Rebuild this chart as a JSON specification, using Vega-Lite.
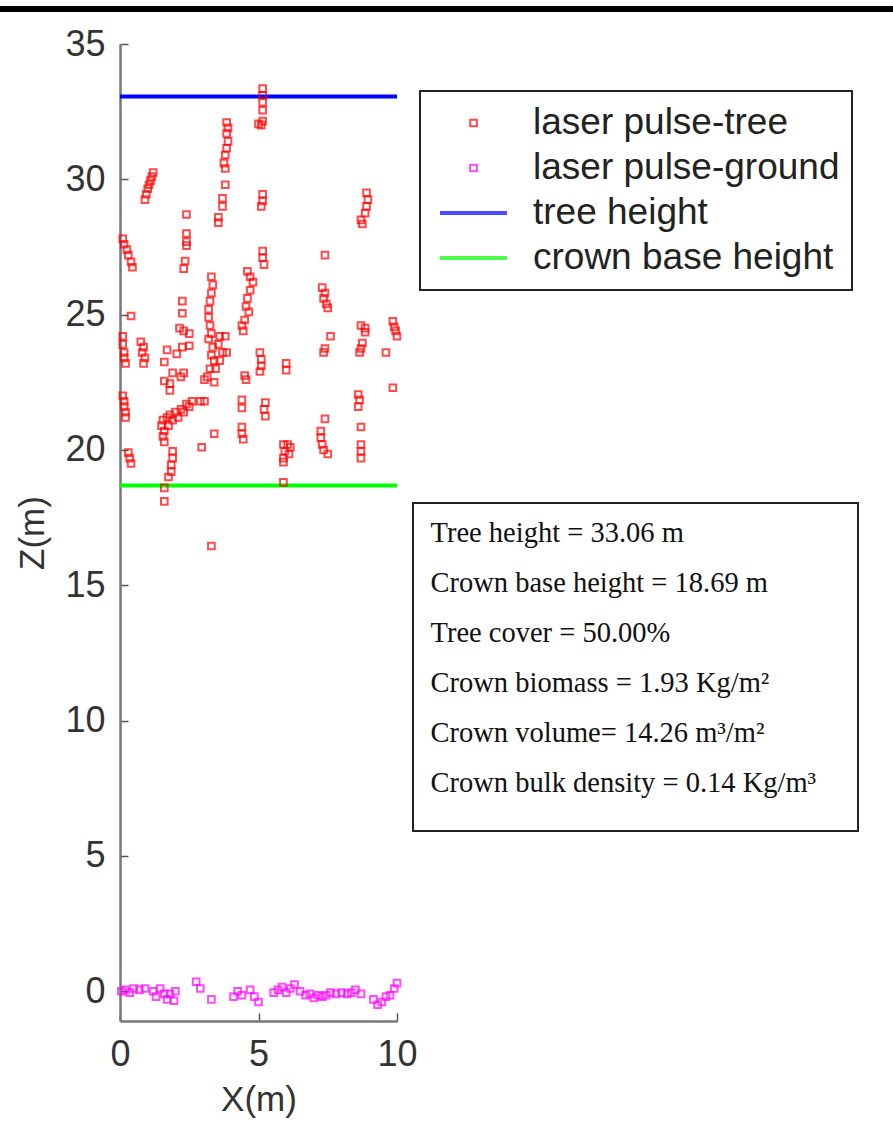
{
  "$schema": "https://vega.github.io/schema/vega-lite/v6.json",
  "width": 277,
  "height": 977,
  "autosize": {"type": "none"},
  "padding": {"left": 120, "top": 44, "right": 496, "bottom": 100},
  "background": "white",
  "config": {
    "view": {"stroke": null},
    "axis": {
      "domainColor": "#777777", "domainWidth": 2.5,
      "tickColor": "#555555", "tickWidth": 1.5, "tickSize": -8,
      "labelFont": "Liberation Sans", "labelFontSize": 36, "labelColor": "#333333", "labelFlush": false,
      "titleFont": "Liberation Sans", "titleFontSize": 35, "titleFontWeight": "normal", "titleColor": "#333333",
      "grid": false
    },
    "legend": {"strokeWidth": 2}
  },
  "layer": [
    {
      "data": {"values": [
        {"s": "tree height", "z": 33.06},
        {"s": "crown base height", "z": 18.69}
      ]},
      "mark": {"type": "rule"},
      "encoding": {
        "y": {"field": "z", "type": "quantitative"},
        "color": {"field": "s", "type": "ordinal",
              "scale": {"type": "ordinal", "domain": ["laser pulse-tree", "laser pulse-ground", "tree height", "crown base height"],
                        "range": ["#ff0000", "#ff00ff", "#0000ff", "#00ff00"]}},
        "strokeWidth": {"field": "s", "type": "ordinal",
              "scale": {"type": "ordinal", "domain": ["laser pulse-tree", "laser pulse-ground", "tree height", "crown base height"],
                        "range": [2, 2, 4, 4]}}
      }
    },
    {
      "data": {"values": [
        {"x":0.1,"z":27.8,"s":"laser pulse-tree"},{"x":0.15,"z":27.6,"s":"laser pulse-tree"},{"x":0.25,"z":27.4,"s":"laser pulse-tree"},{"x":0.3,"z":27.2,"s":"laser pulse-tree"},{"x":0.4,"z":26.95,"s":"laser pulse-tree"},{"x":0.45,"z":26.75,"s":"laser pulse-tree"},
        {"x":0.4,"z":24.95,"s":"laser pulse-tree"},
        {"x":0.1,"z":24.2,"s":"laser pulse-tree"},{"x":0.1,"z":23.9,"s":"laser pulse-tree"},{"x":0.15,"z":23.6,"s":"laser pulse-tree"},{"x":0.15,"z":23.4,"s":"laser pulse-tree"},{"x":0.2,"z":23.2,"s":"laser pulse-tree"},
        {"x":0.1,"z":22.0,"s":"laser pulse-tree"},{"x":0.15,"z":21.8,"s":"laser pulse-tree"},{"x":0.15,"z":21.6,"s":"laser pulse-tree"},{"x":0.2,"z":21.4,"s":"laser pulse-tree"},{"x":0.2,"z":21.2,"s":"laser pulse-tree"},
        {"x":0.3,"z":19.9,"s":"laser pulse-tree"},{"x":0.35,"z":19.7,"s":"laser pulse-tree"},{"x":0.4,"z":19.5,"s":"laser pulse-tree"},
        {"x":0.9,"z":29.25,"s":"laser pulse-tree"},{"x":0.95,"z":29.45,"s":"laser pulse-tree"},{"x":1.0,"z":29.65,"s":"laser pulse-tree"},{"x":1.05,"z":29.8,"s":"laser pulse-tree"},{"x":1.1,"z":29.95,"s":"laser pulse-tree"},{"x":1.15,"z":30.1,"s":"laser pulse-tree"},{"x":1.2,"z":30.25,"s":"laser pulse-tree"},
        {"x":0.75,"z":24.0,"s":"laser pulse-tree"},{"x":0.85,"z":23.8,"s":"laser pulse-tree"},{"x":0.8,"z":23.6,"s":"laser pulse-tree"},{"x":0.9,"z":23.4,"s":"laser pulse-tree"},{"x":0.85,"z":23.2,"s":"laser pulse-tree"},
        {"x":1.7,"z":23.7,"s":"laser pulse-tree"},{"x":1.6,"z":23.25,"s":"laser pulse-tree"},{"x":2.05,"z":23.55,"s":"laser pulse-tree"},{"x":2.5,"z":23.85,"s":"laser pulse-tree"},{"x":2.25,"z":23.8,"s":"laser pulse-tree"},{"x":1.9,"z":22.85,"s":"laser pulse-tree"},{"x":2.3,"z":22.85,"s":"laser pulse-tree"},{"x":1.6,"z":22.55,"s":"laser pulse-tree"},{"x":1.8,"z":22.45,"s":"laser pulse-tree"},{"x":1.8,"z":22.2,"s":"laser pulse-tree"},{"x":2.2,"z":22.7,"s":"laser pulse-tree"},
        {"x":1.5,"z":20.9,"s":"laser pulse-tree"},{"x":1.55,"z":21.1,"s":"laser pulse-tree"},{"x":1.6,"z":20.7,"s":"laser pulse-tree"},{"x":1.7,"z":21.2,"s":"laser pulse-tree"},{"x":1.75,"z":20.9,"s":"laser pulse-tree"},{"x":1.8,"z":21.3,"s":"laser pulse-tree"},{"x":1.9,"z":21.1,"s":"laser pulse-tree"},{"x":2.0,"z":21.4,"s":"laser pulse-tree"},{"x":2.1,"z":21.2,"s":"laser pulse-tree"},{"x":2.2,"z":21.5,"s":"laser pulse-tree"},{"x":2.3,"z":21.4,"s":"laser pulse-tree"},{"x":2.4,"z":21.7,"s":"laser pulse-tree"},{"x":2.5,"z":21.6,"s":"laser pulse-tree"},{"x":2.6,"z":21.8,"s":"laser pulse-tree"},{"x":1.55,"z":20.5,"s":"laser pulse-tree"},{"x":1.6,"z":20.3,"s":"laser pulse-tree"},{"x":2.9,"z":21.8,"s":"laser pulse-tree"},{"x":3.05,"z":21.8,"s":"laser pulse-tree"},
        {"x":1.9,"z":19.95,"s":"laser pulse-tree"},{"x":1.9,"z":19.7,"s":"laser pulse-tree"},{"x":1.85,"z":19.45,"s":"laser pulse-tree"},{"x":1.85,"z":19.2,"s":"laser pulse-tree"},{"x":1.75,"z":19.0,"s":"laser pulse-tree"},{"x":1.6,"z":18.6,"s":"laser pulse-tree"},{"x":1.6,"z":18.1,"s":"laser pulse-tree"},
        {"x":2.4,"z":28.7,"s":"laser pulse-tree"},{"x":2.4,"z":28.0,"s":"laser pulse-tree"},{"x":2.4,"z":27.7,"s":"laser pulse-tree"},{"x":2.4,"z":27.55,"s":"laser pulse-tree"},{"x":2.35,"z":26.98,"s":"laser pulse-tree"},{"x":2.3,"z":26.7,"s":"laser pulse-tree"},
        {"x":2.25,"z":25.5,"s":"laser pulse-tree"},{"x":2.25,"z":25.05,"s":"laser pulse-tree"},{"x":2.15,"z":24.5,"s":"laser pulse-tree"},{"x":2.3,"z":24.4,"s":"laser pulse-tree"},{"x":2.5,"z":24.3,"s":"laser pulse-tree"},
        {"x":3.3,"z":26.4,"s":"laser pulse-tree"},{"x":3.35,"z":26.1,"s":"laser pulse-tree"},{"x":3.3,"z":25.8,"s":"laser pulse-tree"},{"x":3.25,"z":25.5,"s":"laser pulse-tree"},{"x":3.2,"z":25.2,"s":"laser pulse-tree"},{"x":3.2,"z":24.9,"s":"laser pulse-tree"},{"x":3.25,"z":24.6,"s":"laser pulse-tree"},{"x":3.3,"z":24.3,"s":"laser pulse-tree"},{"x":3.2,"z":24.1,"s":"laser pulse-tree"},{"x":3.35,"z":23.8,"s":"laser pulse-tree"},{"x":3.3,"z":23.5,"s":"laser pulse-tree"},{"x":3.4,"z":23.3,"s":"laser pulse-tree"},{"x":3.25,"z":23.0,"s":"laser pulse-tree"},{"x":3.15,"z":22.7,"s":"laser pulse-tree"},
        {"x":3.6,"z":24.2,"s":"laser pulse-tree"},{"x":3.8,"z":24.2,"s":"laser pulse-tree"},{"x":3.55,"z":23.9,"s":"laser pulse-tree"},{"x":3.7,"z":23.6,"s":"laser pulse-tree"},{"x":3.85,"z":23.6,"s":"laser pulse-tree"},{"x":3.6,"z":23.3,"s":"laser pulse-tree"},{"x":3.45,"z":23.0,"s":"laser pulse-tree"},{"x":3.05,"z":22.6,"s":"laser pulse-tree"},{"x":3.4,"z":22.5,"s":"laser pulse-tree"},
        {"x":3.85,"z":32.1,"s":"laser pulse-tree"},{"x":3.9,"z":31.9,"s":"laser pulse-tree"},{"x":3.85,"z":31.7,"s":"laser pulse-tree"},{"x":3.9,"z":31.4,"s":"laser pulse-tree"},{"x":3.85,"z":31.15,"s":"laser pulse-tree"},{"x":3.8,"z":30.9,"s":"laser pulse-tree"},{"x":3.75,"z":30.6,"s":"laser pulse-tree"},{"x":3.8,"z":30.4,"s":"laser pulse-tree"},{"x":3.8,"z":29.8,"s":"laser pulse-tree"},{"x":3.7,"z":29.3,"s":"laser pulse-tree"},{"x":3.7,"z":29.0,"s":"laser pulse-tree"},{"x":3.55,"z":28.6,"s":"laser pulse-tree"},{"x":3.55,"z":28.4,"s":"laser pulse-tree"},
        {"x":4.6,"z":26.6,"s":"laser pulse-tree"},{"x":4.7,"z":26.4,"s":"laser pulse-tree"},{"x":4.8,"z":26.2,"s":"laser pulse-tree"},{"x":4.7,"z":25.9,"s":"laser pulse-tree"},{"x":4.6,"z":25.6,"s":"laser pulse-tree"},{"x":4.55,"z":25.3,"s":"laser pulse-tree"},{"x":4.65,"z":25.1,"s":"laser pulse-tree"},{"x":4.5,"z":24.8,"s":"laser pulse-tree"},{"x":4.4,"z":24.6,"s":"laser pulse-tree"},{"x":4.45,"z":24.4,"s":"laser pulse-tree"},
        {"x":4.5,"z":22.75,"s":"laser pulse-tree"},{"x":4.55,"z":22.6,"s":"laser pulse-tree"},
        {"x":5.15,"z":33.35,"s":"laser pulse-tree"},{"x":5.15,"z":33.1,"s":"laser pulse-tree"},{"x":5.15,"z":32.85,"s":"laser pulse-tree"},{"x":5.15,"z":32.55,"s":"laser pulse-tree"},{"x":5.15,"z":32.15,"s":"laser pulse-tree"},{"x":5.0,"z":32.05,"s":"laser pulse-tree"},{"x":5.1,"z":32.0,"s":"laser pulse-tree"},
        {"x":5.15,"z":29.45,"s":"laser pulse-tree"},{"x":5.15,"z":29.2,"s":"laser pulse-tree"},{"x":5.1,"z":29.0,"s":"laser pulse-tree"},
        {"x":5.15,"z":27.35,"s":"laser pulse-tree"},{"x":5.15,"z":27.1,"s":"laser pulse-tree"},{"x":5.2,"z":26.85,"s":"laser pulse-tree"},
        {"x":5.05,"z":23.6,"s":"laser pulse-tree"},{"x":5.1,"z":23.35,"s":"laser pulse-tree"},{"x":5.1,"z":23.1,"s":"laser pulse-tree"},{"x":5.05,"z":22.9,"s":"laser pulse-tree"},
        {"x":5.25,"z":21.75,"s":"laser pulse-tree"},{"x":5.2,"z":21.5,"s":"laser pulse-tree"},{"x":5.25,"z":21.25,"s":"laser pulse-tree"},
        {"x":4.4,"z":21.85,"s":"laser pulse-tree"},{"x":4.4,"z":21.55,"s":"laser pulse-tree"},{"x":4.4,"z":20.85,"s":"laser pulse-tree"},{"x":4.4,"z":20.6,"s":"laser pulse-tree"},{"x":4.45,"z":20.4,"s":"laser pulse-tree"},
        {"x":3.4,"z":20.6,"s":"laser pulse-tree"},{"x":2.95,"z":20.1,"s":"laser pulse-tree"},{"x":3.3,"z":16.45,"s":"laser pulse-tree"},
        {"x":6.0,"z":23.2,"s":"laser pulse-tree"},{"x":6.0,"z":22.95,"s":"laser pulse-tree"},{"x":5.9,"z":20.2,"s":"laser pulse-tree"},{"x":6.05,"z":20.2,"s":"laser pulse-tree"},{"x":6.15,"z":20.1,"s":"laser pulse-tree"},{"x":5.95,"z":19.95,"s":"laser pulse-tree"},{"x":6.1,"z":19.85,"s":"laser pulse-tree"},{"x":5.9,"z":19.7,"s":"laser pulse-tree"},{"x":5.9,"z":19.55,"s":"laser pulse-tree"},{"x":5.9,"z":18.8,"s":"laser pulse-tree"},
        {"x":7.4,"z":27.2,"s":"laser pulse-tree"},{"x":7.3,"z":26.0,"s":"laser pulse-tree"},{"x":7.4,"z":25.8,"s":"laser pulse-tree"},{"x":7.35,"z":25.6,"s":"laser pulse-tree"},{"x":7.45,"z":25.4,"s":"laser pulse-tree"},{"x":7.5,"z":25.25,"s":"laser pulse-tree"},{"x":7.6,"z":24.2,"s":"laser pulse-tree"},{"x":7.4,"z":23.75,"s":"laser pulse-tree"},{"x":7.35,"z":23.6,"s":"laser pulse-tree"},{"x":7.4,"z":21.15,"s":"laser pulse-tree"},{"x":7.25,"z":20.7,"s":"laser pulse-tree"},{"x":7.25,"z":20.45,"s":"laser pulse-tree"},{"x":7.3,"z":20.2,"s":"laser pulse-tree"},{"x":7.35,"z":20.0,"s":"laser pulse-tree"},{"x":7.5,"z":19.85,"s":"laser pulse-tree"},
        {"x":8.9,"z":29.5,"s":"laser pulse-tree"},{"x":8.95,"z":29.25,"s":"laser pulse-tree"},{"x":8.9,"z":29.0,"s":"laser pulse-tree"},{"x":8.85,"z":28.75,"s":"laser pulse-tree"},{"x":8.7,"z":28.5,"s":"laser pulse-tree"},{"x":8.75,"z":28.35,"s":"laser pulse-tree"},{"x":8.7,"z":24.6,"s":"laser pulse-tree"},{"x":8.85,"z":24.5,"s":"laser pulse-tree"},{"x":8.85,"z":24.35,"s":"laser pulse-tree"},{"x":8.75,"z":23.95,"s":"laser pulse-tree"},{"x":8.7,"z":23.75,"s":"laser pulse-tree"},{"x":8.65,"z":23.6,"s":"laser pulse-tree"},{"x":8.6,"z":22.05,"s":"laser pulse-tree"},{"x":8.65,"z":21.85,"s":"laser pulse-tree"},{"x":8.6,"z":21.6,"s":"laser pulse-tree"},{"x":8.7,"z":20.85,"s":"laser pulse-tree"},{"x":8.7,"z":20.2,"s":"laser pulse-tree"},{"x":8.7,"z":19.95,"s":"laser pulse-tree"},{"x":8.7,"z":19.7,"s":"laser pulse-tree"},
        {"x":9.6,"z":23.6,"s":"laser pulse-tree"},{"x":9.85,"z":24.75,"s":"laser pulse-tree"},{"x":9.9,"z":24.55,"s":"laser pulse-tree"},{"x":9.95,"z":24.4,"s":"laser pulse-tree"},{"x":10.0,"z":24.2,"s":"laser pulse-tree"},{"x":9.85,"z":22.3,"s":"laser pulse-tree"},
        {"x":0.05,"z":0.0,"s":"laser pulse-ground"},{"x":0.2,"z":0.05,"s":"laser pulse-ground"},{"x":0.35,"z":-0.05,"s":"laser pulse-ground"},{"x":0.5,"z":0.1,"s":"laser pulse-ground"},{"x":0.7,"z":0.05,"s":"laser pulse-ground"},{"x":0.9,"z":0.1,"s":"laser pulse-ground"},
        {"x":1.2,"z":0.0,"s":"laser pulse-ground"},{"x":1.3,"z":-0.2,"s":"laser pulse-ground"},{"x":1.45,"z":0.1,"s":"laser pulse-ground"},{"x":1.6,"z":-0.1,"s":"laser pulse-ground"},{"x":1.7,"z":-0.3,"s":"laser pulse-ground"},{"x":1.8,"z":-0.1,"s":"laser pulse-ground"},{"x":1.95,"z":-0.35,"s":"laser pulse-ground"},{"x":2.0,"z":0.0,"s":"laser pulse-ground"},
        {"x":2.75,"z":0.35,"s":"laser pulse-ground"},{"x":2.9,"z":0.1,"s":"laser pulse-ground"},{"x":3.3,"z":-0.3,"s":"laser pulse-ground"},
        {"x":4.1,"z":-0.2,"s":"laser pulse-ground"},{"x":4.25,"z":0.0,"s":"laser pulse-ground"},{"x":4.4,"z":-0.15,"s":"laser pulse-ground"},{"x":4.7,"z":0.05,"s":"laser pulse-ground"},{"x":4.85,"z":-0.2,"s":"laser pulse-ground"},{"x":5.0,"z":-0.4,"s":"laser pulse-ground"},
        {"x":5.55,"z":-0.05,"s":"laser pulse-ground"},{"x":5.7,"z":0.05,"s":"laser pulse-ground"},{"x":5.85,"z":0.15,"s":"laser pulse-ground"},{"x":6.0,"z":-0.05,"s":"laser pulse-ground"},{"x":6.15,"z":0.1,"s":"laser pulse-ground"},{"x":6.3,"z":0.25,"s":"laser pulse-ground"},
        {"x":6.5,"z":0.0,"s":"laser pulse-ground"},{"x":6.7,"z":-0.15,"s":"laser pulse-ground"},{"x":6.85,"z":-0.1,"s":"laser pulse-ground"},{"x":7.0,"z":-0.25,"s":"laser pulse-ground"},{"x":7.15,"z":-0.15,"s":"laser pulse-ground"},{"x":7.3,"z":-0.2,"s":"laser pulse-ground"},{"x":7.45,"z":-0.15,"s":"laser pulse-ground"},{"x":7.6,"z":-0.05,"s":"laser pulse-ground"},{"x":7.8,"z":-0.1,"s":"laser pulse-ground"},
        {"x":8.0,"z":-0.05,"s":"laser pulse-ground"},{"x":8.2,"z":-0.1,"s":"laser pulse-ground"},{"x":8.35,"z":-0.05,"s":"laser pulse-ground"},{"x":8.5,"z":0.05,"s":"laser pulse-ground"},{"x":8.7,"z":-0.1,"s":"laser pulse-ground"},
        {"x":9.15,"z":-0.3,"s":"laser pulse-ground"},{"x":9.3,"z":-0.5,"s":"laser pulse-ground"},{"x":9.45,"z":-0.4,"s":"laser pulse-ground"},{"x":9.6,"z":-0.2,"s":"laser pulse-ground"},{"x":9.75,"z":-0.15,"s":"laser pulse-ground"},{"x":9.9,"z":0.1,"s":"laser pulse-ground"},{"x":10.0,"z":0.3,"s":"laser pulse-ground"}
      ]},
      "mark": {"type": "point", "filled": false},
      "encoding": {
        "x": {"field": "x", "type": "quantitative",
              "scale": {"domain": [0, 10], "nice": false, "zero": false},
              "axis": {"title": "X(m)", "values": [0, 5, 10], "labelPadding": 24, "titlePadding": 10}},
        "y": {"field": "z", "type": "quantitative",
              "scale": {"domain": [-1.1, 35], "nice": false, "zero": false},
              "axis": {"title": "Z(m)", "values": [0, 5, 10, 15, 20, 25, 30, 35], "labelPadding": 23, "titlePadding": 14}},
        "color": {"field": "s", "type": "ordinal",
              "scale": {"type": "ordinal", "domain": ["laser pulse-tree", "laser pulse-ground", "tree height", "crown base height"],
                        "range": ["#ff0000", "#ff00ff", "#0000ff", "#00ff00"]},
              "legend": {"title": null, "orient": "none", "legendX": 300, "legendY": 47,
                         "strokeColor": "#222222", "fillColor": "white", "padding": 12,
                         "symbolOffset": 6, "labelOffset": 24, "clipHeight": 40, "rowPadding": 5,
                         "labelFont": "Liberation Sans", "labelFontSize": 37, "labelColor": "#222222", "labelLimit": 600}},
        "shape": {"field": "s", "type": "ordinal",
              "scale": {"type": "ordinal", "domain": ["laser pulse-tree", "laser pulse-ground", "tree height", "crown base height"],
                        "range": ["square", "square", "stroke", "stroke"]}},
        "size": {"field": "s", "type": "ordinal",
              "scale": {"type": "ordinal", "domain": ["laser pulse-tree", "laser pulse-ground", "tree height", "crown base height"],
                        "range": [44, 44, 4489, 4489]}},
        "strokeWidth": {"field": "s", "type": "ordinal",
              "scale": {"type": "ordinal", "domain": ["laser pulse-tree", "laser pulse-ground", "tree height", "crown base height"],
                        "range": [2, 2, 4, 4]}}
      }
    },
    {
      "data": {"values": [
        {"stat": "Tree height = 33.06 m"},
        {"stat": "Crown base height = 18.69 m"},
        {"stat": "Tree cover = 50.00%"},
        {"stat": "Crown biomass = 1.93 Kg/m²"},
        {"stat": "Crown volume= 14.26 m³/m²"},
        {"stat": "Crown bulk density = 0.14 Kg/m³"}
      ]},
      "mark": {"type": "point", "opacity": 0},
      "encoding": {
        "fill": {"field": "stat", "type": "nominal",
              "scale": {"domain": ["Tree height = 33.06 m", "Crown base height = 18.69 m", "Tree cover = 50.00%", "Crown biomass = 1.93 Kg/m²", "Crown volume= 14.26 m³/m²", "Crown bulk density = 0.14 Kg/m³"],
                        "range": ["white"]},
              "legend": {"title": "\u00a0", "titleOrient": "bottom", "titleFont": "Liberation Mono", "titleFontSize": 10, "titlePadding": 7,
                         "orient": "none", "legendX": 293, "legendY": 459,
                         "strokeColor": "#222222", "fillColor": "white", "padding": 16,
                         "symbolSize": 1, "symbolOpacity": 0, "symbolOffset": 398, "labelOffset": -425,
                         "rowPadding": 21, "labelFont": "Liberation Serif", "labelFontSize": 28.5,
                         "labelColor": "#111111", "labelLimit": 700}}
      }
    },
    {
      "data": {"values": [{}]},
      "mark": {"type": "rule", "color": "#000000", "strokeWidth": 6},
      "encoding": {
        "y": {"datum": 36.29, "type": "quantitative"},
        "x": {"datum": -4.35, "type": "quantitative"},
        "x2": {"datum": 28}
      }
    }
  ]
}
